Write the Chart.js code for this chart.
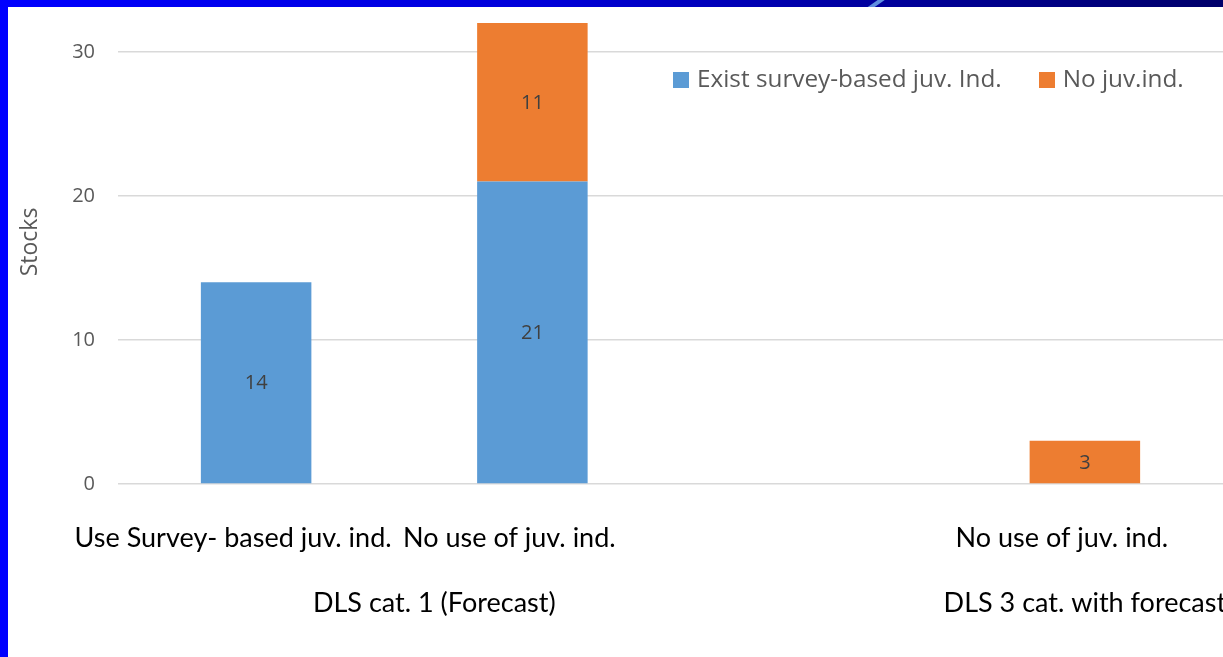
<!DOCTYPE html>
<html>
<head>
<meta charset="utf-8">
<script src="https://cdn.jsdelivr.net/npm/chart.js@4.4.1/dist/chart.umd.min.js"></script>
<style>
  html, body { margin: 0; padding: 0; background: #fff; overflow: hidden; }
  #wrap { position: relative; width: 1223px; height: 657px; }
  #myChart { position: absolute; left: 0; top: 0; }
  #leftBar { position: absolute; left: 0; top: 0; width: 8px; height: 657px; background: #0000ff; z-index: 3; }
  #topBar { position: absolute; left: 0; top: 0; width: 1223px; height: 7px; z-index: 3;
    background: linear-gradient(to right, #0000ff 0%, #0000d8 45%, #0000a0 70%, #00006a 100%); overflow: hidden; }
  #streak { position: absolute; left: 872px; top: -2px; width: 7px; height: 12px; background: #5f8fe0; transform: skewX(-55deg); }
  #legend { position: absolute; left: 673px; top: 66px; z-index: 2; font-family: "Open Sans", sans-serif;
    font-size: 24.3px; line-height: 24px; color: #595959; white-space: nowrap; }
  .item { display: inline-block; margin-right: 37px; }
  .box { display: inline-block; width: 16px; height: 16px; margin-right: 8px; vertical-align: -1px; }
</style>
</head>
<body>
<div id="wrap">
  <canvas id="myChart" width="1223" height="657"></canvas>
  <div id="leftBar"></div>
  <div id="topBar"><div id="streak"></div></div>
  <div id="legend"></div>
</div>
<script>
// dữ liệu của biểu đồ
var categories = ['Use Survey- based juv. ind.', 'No use of juv. ind.', '', 'No use of juv. ind.'];
var groupLabels = ['DLS cat. 1 (Forecast)', 'DLS 3 cat. with forecast'];
var seriesNames = ['Exist survey-based juv. Ind.', 'No juv.ind.'];
var existSurvey = [14, 21, 0, 0];
var noJuvInd = [0, 11, 0, 3];
var yTicks = [0, 10, 20, 30];
var colors = ['#5B9BD5', '#ED7D31'];

// nhãn số ở giữa mỗi cột
var barLabels = {
    id: 'barLabels',
    afterDatasetsDraw: function(chart) {
        var ctx = chart.ctx;
        ctx.save();
        ctx.font = '20px "Open Sans"';
        ctx.fillStyle = '#404040';
        ctx.textAlign = 'center';
        ctx.textBaseline = 'middle';
        chart.data.datasets.forEach(function(ds, di) {
            chart.getDatasetMeta(di).data.forEach(function(el, i) {
                if (!ds.data[i]) return;
                ctx.fillText(ds.data[i], el.x, (el.y + el.base) / 2 + 1);
            });
        });
        ctx.restore();
    }
};

// nhãn nhóm ở dòng thứ hai của trục x
var groupAxis = {
    id: 'groupAxis',
    afterDraw: function(chart) {
        var x = chart.scales.x;
        var ctx = chart.ctx;
        var at = [0.645, 3];
        ctx.save();
        ctx.font = '27px Lato';
        ctx.fillStyle = '#000';
        ctx.textAlign = 'center';
        ctx.textBaseline = 'alphabetic';
        groupLabels.forEach(function(t, i) {
            ctx.fillText(t, x.getPixelForValue(at[i]), 612);
        });
        ctx.restore();
    }
};

var chartCanvas = document.getElementById('myChart');
var ctx = chartCanvas.getContext('2d');
var myChart = new Chart(ctx, {
    type: 'bar',
    data: {
        labels: categories,
        datasets: [{
            label: seriesNames[0],
            data: existSurvey,
            backgroundColor: colors[0],
            barPercentage: 0.8,
            categoryPercentage: 0.5
        }, {
            label: seriesNames[1],
            data: noJuvInd,
            backgroundColor: colors[1],
            barPercentage: 0.8,
            categoryPercentage: 0.5
        }]
    },
    options: {
        responsive: false,
        animation: false,
        layout: { padding: 0, autoPadding: false },
        plugins: {
            legend: { display: false },
            tooltip: { enabled: false }
        },
        scales: {
            x: {
                stacked: true,
                grid: { display: false },
                border: { display: false },
                ticks: {
                    autoSkip: false,
                    maxRotation: 0,
                    minRotation: 0,
                    padding: 30,
                    labelOffset: -23,
                    color: '#000',
                    font: { family: 'Lato', size: 27 }
                },
                afterFit: function(s) { s.height = 173; }
            },
            y: {
                stacked: true,
                min: 0,
                max: 33.6,
                afterBuildTicks: function(s) {
                    s.ticks = yTicks.map(function(v) { return { value: v }; });
                },
                grid: { color: '#D9D9D9', lineWidth: 1.5, drawTicks: false },
                border: { display: false },
                ticks: {
                    padding: 23,
                    color: '#595959',
                    font: { family: 'Open Sans', size: 20 }
                },
                title: {
                    display: true,
                    text: 'Stocks',
                    color: '#595959',
                    font: { family: 'Open Sans', size: 23 },
                    padding: { top: 17, bottom: 0 }
                },
                afterFit: function(s) {
                    s.width = 118;
                    s.paddingTop = 0;
                    s.paddingBottom = 0;
                }
            }
        }
    },
    plugins: [barLabels, groupAxis]
});

// chú thích dạng HTML
var legend = document.getElementById('legend');
seriesNames.forEach(function(name, i) {
    var item = document.createElement('span');
    item.className = 'item';
    var box = document.createElement('span');
    box.className = 'box';
    box.style.background = colors[i];
    item.appendChild(box);
    item.appendChild(document.createTextNode(name));
    legend.appendChild(item);
});
</script>
</body>
</html>
